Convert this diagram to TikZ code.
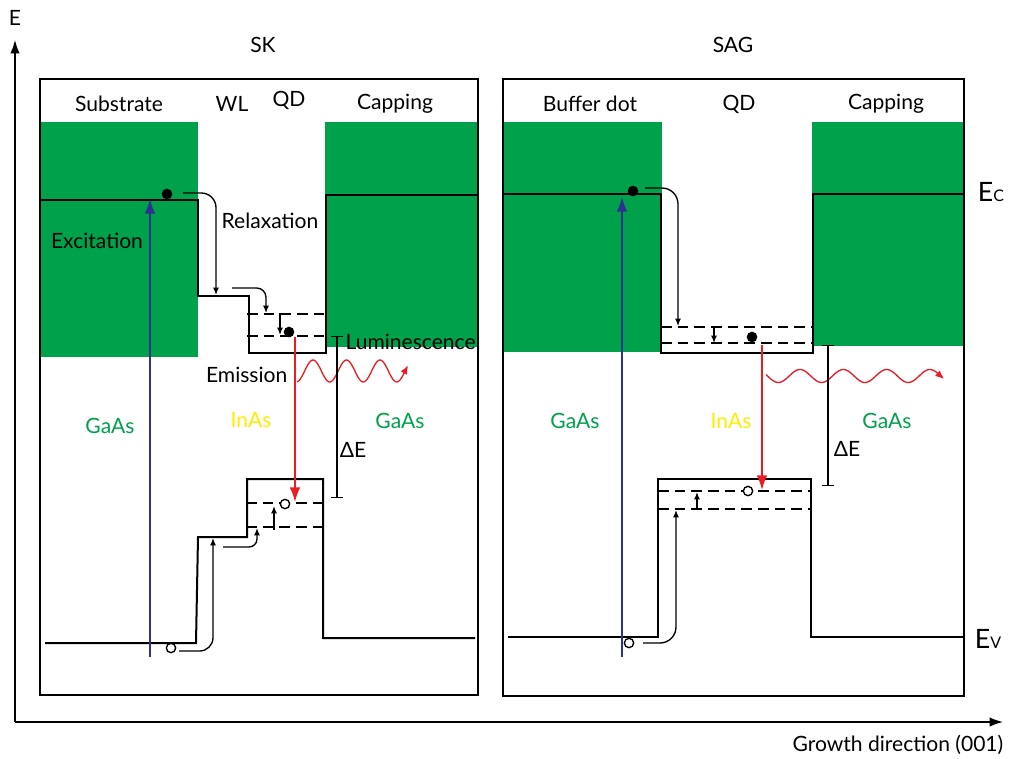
\documentclass[tikz,border=0pt]{standalone}
\usepackage{fontspec}
\setmainfont{Lato}
\usepackage{tikz}
\usetikzlibrary{arrows.meta,calc,positioning}
\definecolor{bandgreen}{RGB}{0,161,75}
\definecolor{exblue}{RGB}{46,49,146}
\definecolor{emred}{RGB}{237,28,36}
\definecolor{inasyellow}{RGB}{255,236,0}

\begin{document}
\begin{tikzpicture}[x=0.75pt,y=-0.75pt,
    font=\fontsize{15.8}{19}\selectfont,
    band/.style={line width=1.5pt},
    frame/.style={line width=1.1pt},
    level/.style={line width=1.1pt, dash pattern=on 8pt off 4.5pt},
    relax/.style={line width=1pt,-{Latex[length=5.5pt,width=4.5pt]}},
    excite/.style={exblue,line width=1.2pt,-{Latex[length=11pt,width=8pt]}},
    emit/.style={emred,line width=1.3pt,-{Latex[length=11pt,width=8pt]}},
    photon/.style={emred,line width=1pt,-{Latex[length=6.5pt,width=5.5pt]}},
    gapbar/.style={line width=1.1pt,{Bar[width=9pt]}-{Bar[width=9pt]}},
    electron/.style={circle,fill=black,inner sep=0pt,minimum size=8pt},
    hole/.style={circle,draw=black,fill=white,line width=1pt,inner sep=0pt,minimum size=7pt}]
      \useasboundingbox (0,0) rectangle (1011,758);
      % Draw the barriers
      \fill[bandgreen] (40,122) rectangle (198,357);
      \fill[bandgreen] (325,122) rectangle (478,347);
      \fill[bandgreen] (503,122) rectangle (662,352);
      \fill[bandgreen] (812,122) rectangle (964,346);
      % Draw the panels
      \draw[frame] (40,79) rectangle (478,695);
      \draw[frame] (503,79) rectangle (964,696);
      %axis
      \coordinate (origin) at (15,722);
      \draw[line width=1pt,-{Latex[length=10pt,width=7pt]}] (origin) -- (15,40);
      \draw[line width=1pt,-{Latex[length=10pt,width=7pt]}] (origin) -- (1003,722);
      \node (elabel) at (15,18) {E};
      \node[anchor=east] (growth) at (1008,745) {Growth direction (001)};
      % Titles
      \node (sk) at (263,45) {SK};
      \node (sag) at (733,45) {SAG};
      \node (sub) at (119,104) {Substrate};
      \node (wl) at (232,104) {WL};
      \node (qdl) at (289,100) {QD};
      \node (capl) at (395,104) {Capping};
      \node (buf) at (590,104) {Buffer dot};
      \node (qdr) at (739,104) {QD};
      \node (capr) at (886,104) {Capping};
      % SK bands
      \draw[band] (40,200) -- (198,200) -- (198,296) -- (249,296) -- (249,353) -- (326,353) -- (326,195) -- (478,195);
      \draw[level] (247,314) -- (326,314);
      \draw[level] (247,336) -- (326,336);
      \draw[band] (45,643) -- (196,643) -- (198,537) -- (247,537) -- (247,479) -- (323,479) -- (323,638) -- (475,638);
      \draw[level] (246,503) -- (323,503);
      \draw[level] (246,527) -- (323,527);
      % SAG bands
      \draw[band] (503,194) -- (661,194) -- (661,353) -- (813,353) -- (813,194) -- (964,194);
      \draw[level] (661,327) -- (813,327);
      \draw[level] (661,343) -- (813,343);
      \draw[band] (508,637) -- (658,637) -- (658,479) -- (811,479) -- (811,637) -- (963,637);
      \draw[level] (658,491) -- (811,491);
      \draw[level] (658,509) -- (811,509);
      % Carriers
      \node[electron] (e1) at (167,194) {};
      \node[electron] (e2) at (289,332) {};
      \node[electron] (e3) at (633,191) {};
      \node[electron] (e4) at (752,337) {};
      \node[hole] (h1) at (171,648) {};
      \node[hole] (h2) at (285,504) {};
      \node[hole] (h3) at (629,643) {};
      \node[hole] (h4) at (748,491) {};
      % Excitation
      \draw[excite] (150,657) -- (150,199);
      \draw[excite] (622,657) -- (622,197);
      % Relaxation
      \draw[relax,rounded corners=11pt] ($(e1)+(16,-1)$) -- (216,193) -- (216,295);
      \draw[relax,rounded corners=7pt] (232,288) -- (266,288) -- (266,313);
      \draw[relax] (286,314) -- (280,314) -- (280,335);
      \draw[relax,rounded corners=12pt] ($(e3)+(12,-3)$) -- (678,188) -- (678,326);
      \draw[relax] (718,327) -- (714,327) -- (714,343);
      \draw[relax,rounded corners=10pt] ($(h1)+(8,3)$) -- (213,651) -- (213,538);
      \draw[relax,rounded corners=6pt] (223,547) -- (257,547) -- (257,528);
      \draw[relax] (274,530) -- (274,506);
      \draw[relax,rounded corners=12pt] ($(h3)+(14,0)$) -- (676,643) -- (676,510);
      \draw[relax] (697,509) -- (697,492);
      % Emission
      \draw[emit] ($(e2)+(6,5)$) -- ($(h2)+(10,-2)$);
      \draw[emit] ($(e4)+(10,8)$) -- ($(h4)+(14,-1)$);
      \draw[photon,domain=297:408,samples=100] plot (\x,{371-11*cos((\x-313)/33.5*360)});
      \draw[photon,domain=766:944,samples=120] plot (\x,{376-6.5*cos((\x-800)/43.3*360)});
      % Gap
      \draw[gapbar] (337,336) -- (337,498);
      \draw[gapbar] (828,345) -- (828,486);
      \node (dEl) at (353,450) {ΔE};
      \node (dEr) at (847,449) {ΔE};
      % Labels
      \node (relaxlbl) at (270,221) {Relaxation};
      \node (excitelbl) at (97,241) {Excitation};
      \node[anchor=west,inner sep=1pt] (lumlbl) at (344,342) {Luminescence};
      \node[anchor=east] (emislbl) at (292,375) {Emission};
      \node[bandgreen] (gaasl) at (110,426) {GaAs};
      \node[inasyellow] (inasl) at (251,420) {InAs};
      \node[bandgreen] (gaasc) at (400,421) {GaAs};
      \node[bandgreen] (gaasbl) at (575,421) {GaAs};
      \node[inasyellow] (inasr) at (731,421) {InAs};
      \node[bandgreen] (gaasr) at (887,421) {GaAs};
      \node (ec) at (991,192) {\fontsize{20}{21}\selectfont E\fontsize{12}{13}\selectfont C};
      \node (ev) at (988,639) {\fontsize{20}{21}\selectfont E\fontsize{12}{13}\selectfont V};
\end{tikzpicture}
\end{document}
